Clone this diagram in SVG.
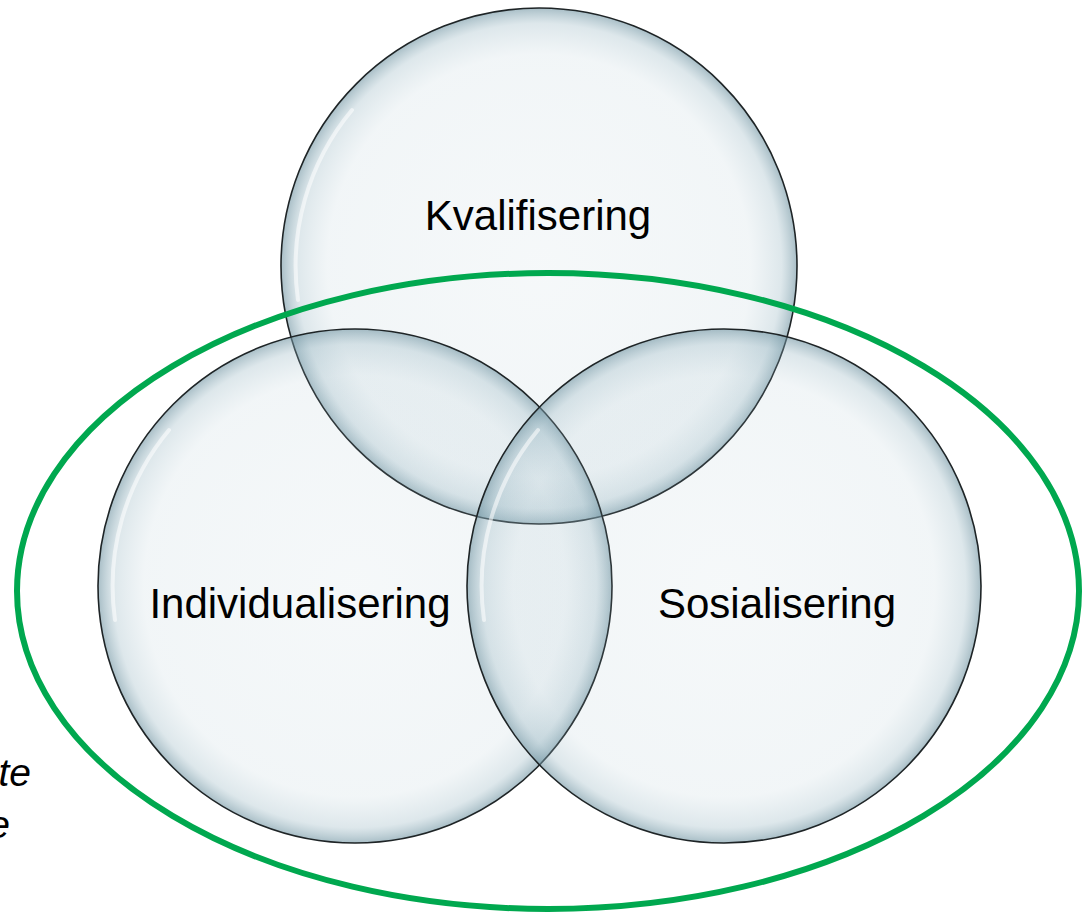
<svg xmlns="http://www.w3.org/2000/svg" width="1082" height="912" viewBox="0 0 1082 912">
<style>
.bubble{fill:url(#glass);stroke:#1e2426;stroke-width:1.6}
.hl{fill:none;stroke:#ffffff;stroke-width:4;stroke-linecap:round;opacity:0.55}
.lbl{font-family:"Liberation Sans",Arial,sans-serif;font-size:42px;fill:#000;text-anchor:middle}
.side{font-family:"Liberation Sans",Arial,sans-serif;font-size:39px;font-style:italic;fill:#000;text-anchor:end}
</style>
<defs>
<radialGradient id="glass" cx="0.5" cy="0.5" r="0.5">
<stop offset="0" stop-color="#9fbcc8" stop-opacity="0.1"/>
<stop offset="0.82" stop-color="#9fbcc8" stop-opacity="0.14"/>
<stop offset="0.94" stop-color="#8fb0bd" stop-opacity="0.3"/>
<stop offset="1" stop-color="#6f93a1" stop-opacity="0.6"/>
</radialGradient>
</defs>
<rect width="1082" height="912" fill="#ffffff"/>
<g id="kvalifisering">
<circle class="bubble" cx="539" cy="266" r="258"/>
<path class="hl" d="M 298 300 A 244 244 0 0 1 352 110"/>
<text class="lbl" x="538" y="230">Kvalifisering</text>
</g>
<g id="individualisering">
<circle class="bubble" cx="355" cy="586" r="257"/>
<path class="hl" d="M 115 620 A 244 244 0 0 1 169 430"/>
<text class="lbl" x="300" y="618">Individualisering</text>
</g>
<g id="sosialisering">
<circle class="bubble" cx="724" cy="586" r="257"/>
<path class="hl" d="M 484 620 A 244 244 0 0 1 538 430"/>
<text class="lbl" x="777" y="618">Sosialisering</text>
</g>
<g id="ramme">
<ellipse cx="548" cy="591" rx="531" ry="318" fill="none" stroke="#00a84f" stroke-width="6"/>
</g>
<g id="sidetekst">
<text class="side" x="31" y="786">te</text>
<text class="side" x="10" y="838">e</text>
</g>
</svg>
